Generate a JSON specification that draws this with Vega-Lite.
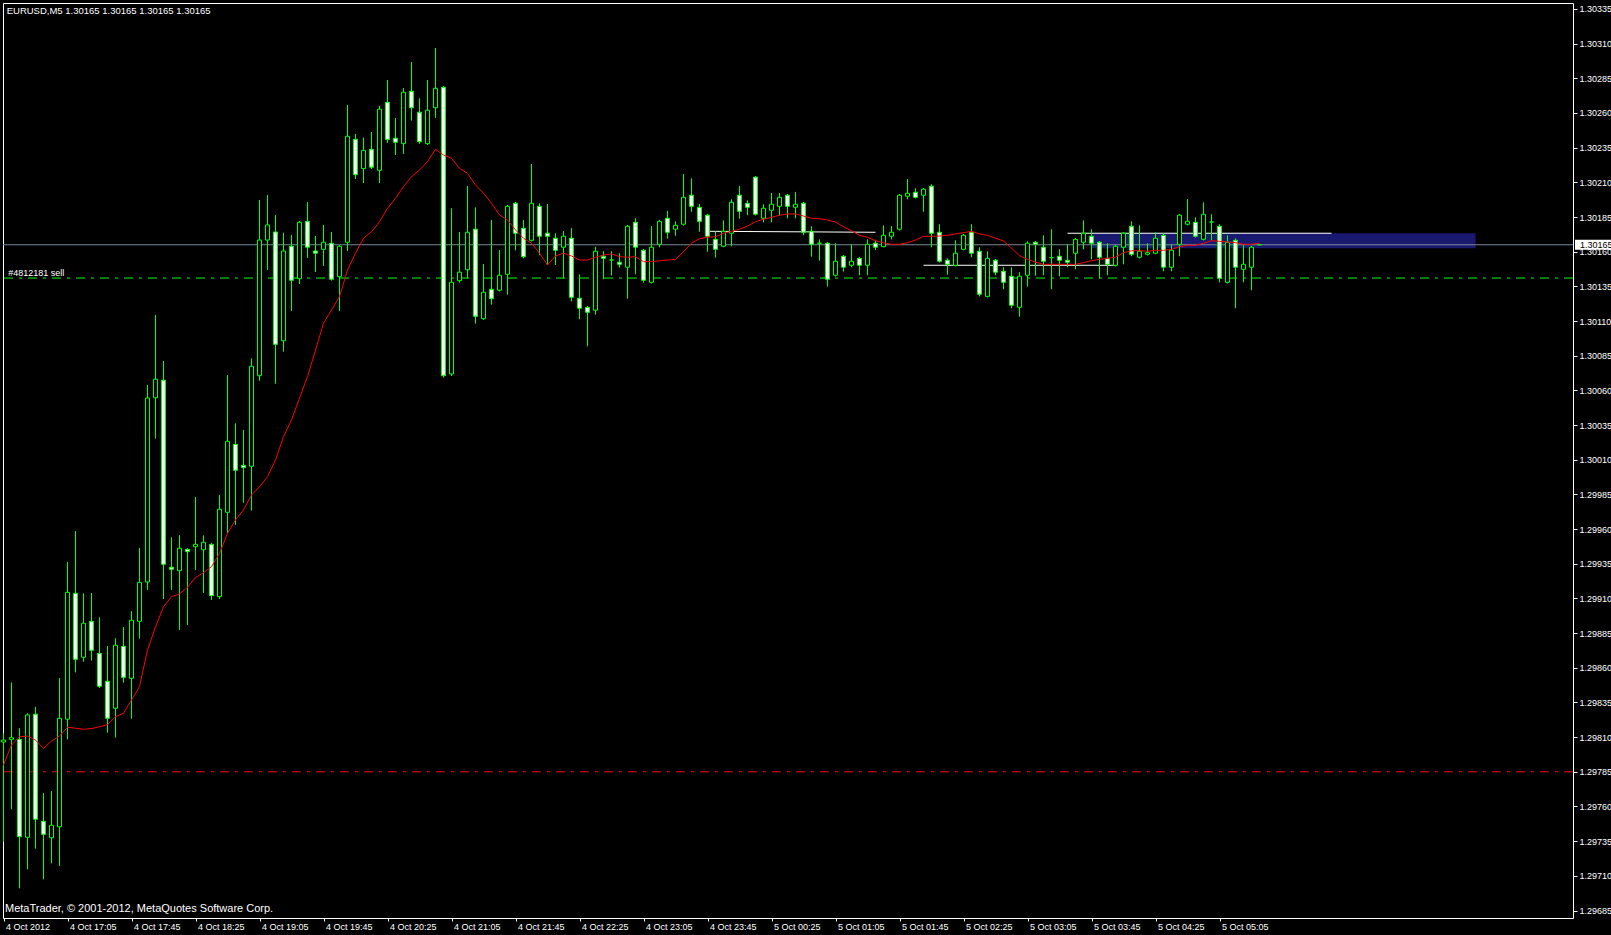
{
"$schema": "https://vega.github.io/schema/vega-lite/v6.json",
"width": 1570, "height": 915,
"autosize": {"type": "none"},
"padding": {"left": 3, "top": 3, "right": 38, "bottom": 17},
"background": "#000000",
"config": {
  "view": {"fill": "#000000", "stroke": "#ffffff", "strokeWidth": 1},
  "font": "Liberation Sans",
  "axis": {"grid": false, "domain": false, "tickColor": "#ffffff", "labelColor": "#ffffff", "labelFont": "Liberation Sans", "labelFontSize": 9, "labelOverlap": false}
},
"data": {"values": [
{"t":"2012-10-04T16:25Z","o":1.298065,"h":1.298128,"l":1.297346,"c":1.298079,"ma":1.297899},
{"t":"2012-10-04T16:30Z","o":1.298084,"h":1.298495,"l":1.297580,"c":1.298096,"ma":1.298043},
{"t":"2012-10-04T16:35Z","o":1.298084,"h":1.298164,"l":1.297010,"c":1.297382,"ma":1.298103},
{"t":"2012-10-04T16:40Z","o":1.297378,"h":1.298272,"l":1.297147,"c":1.298260,"ma":1.298108},
{"t":"2012-10-04T16:45Z","o":1.298265,"h":1.298319,"l":1.297296,"c":1.297508,"ma":1.298079},
{"t":"2012-10-04T16:50Z","o":1.297493,"h":1.297697,"l":1.297075,"c":1.297399,"ma":1.298019},
{"t":"2012-10-04T16:55Z","o":1.297375,"h":1.297712,"l":1.297190,"c":1.297464,"ma":1.298072},
{"t":"2012-10-04T17:00Z","o":1.297454,"h":1.298526,"l":1.297171,"c":1.298236,"ma":1.298108},
{"t":"2012-10-04T17:05Z","o":1.298229,"h":1.299363,"l":1.298084,"c":1.299144,"ma":1.298171},
{"t":"2012-10-04T17:10Z","o":1.299137,"h":1.299586,"l":1.298567,"c":1.298661,"ma":1.298164},
{"t":"2012-10-04T17:15Z","o":1.298676,"h":1.299137,"l":1.298644,"c":1.298921,"ma":1.298157},
{"t":"2012-10-04T17:20Z","o":1.298935,"h":1.299139,"l":1.298651,"c":1.298726,"ma":1.298161},
{"t":"2012-10-04T17:25Z","o":1.298704,"h":1.298964,"l":1.298454,"c":1.298467,"ma":1.298175},
{"t":"2012-10-04T17:30Z","o":1.298503,"h":1.298757,"l":1.298132,"c":1.298236,"ma":1.298190},
{"t":"2012-10-04T17:35Z","o":1.298308,"h":1.298813,"l":1.298096,"c":1.298762,"ma":1.298247},
{"t":"2012-10-04T17:40Z","o":1.298755,"h":1.298894,"l":1.298493,"c":1.298531,"ma":1.298272},
{"t":"2012-10-04T17:45Z","o":1.298524,"h":1.299009,"l":1.298233,"c":1.298942,"ma":1.298368},
{"t":"2012-10-04T17:50Z","o":1.298935,"h":1.299464,"l":1.298810,"c":1.299216,"ma":1.298464},
{"t":"2012-10-04T17:55Z","o":1.299218,"h":1.300639,"l":1.299161,"c":1.300545,"ma":1.298728},
{"t":"2012-10-04T18:00Z","o":1.300547,"h":1.301144,"l":1.300252,"c":1.300680,"ma":1.298894},
{"t":"2012-10-04T18:05Z","o":1.300673,"h":1.300812,"l":1.299096,"c":1.299346,"ma":1.299040},
{"t":"2012-10-04T18:10Z","o":1.299325,"h":1.299541,"l":1.299161,"c":1.299310,"ma":1.299113},
{"t":"2012-10-04T18:15Z","o":1.299300,"h":1.299557,"l":1.298872,"c":1.299462,"ma":1.299132},
{"t":"2012-10-04T18:20Z","o":1.299454,"h":1.299462,"l":1.298908,"c":1.299437,"ma":1.299180},
{"t":"2012-10-04T18:25Z","o":1.299473,"h":1.299831,"l":1.299305,"c":1.299490,"ma":1.299250},
{"t":"2012-10-04T18:30Z","o":1.299451,"h":1.299555,"l":1.299139,"c":1.299505,"ma":1.299286},
{"t":"2012-10-04T18:35Z","o":1.299490,"h":1.299500,"l":1.299089,"c":1.299120,"ma":1.299329},
{"t":"2012-10-04T18:40Z","o":1.299113,"h":1.299846,"l":1.299096,"c":1.299743,"ma":1.299425},
{"t":"2012-10-04T18:45Z","o":1.299721,"h":1.300711,"l":1.299570,"c":1.300233,"ma":1.299570},
{"t":"2012-10-04T18:50Z","o":1.300211,"h":1.300363,"l":1.299630,"c":1.300024,"ma":1.299666},
{"t":"2012-10-04T18:55Z","o":1.300060,"h":1.300315,"l":1.299790,"c":1.300043,"ma":1.299738},
{"t":"2012-10-04T19:00Z","o":1.300053,"h":1.300831,"l":1.299733,"c":1.300774,"ma":1.299846},
{"t":"2012-10-04T19:05Z","o":1.300706,"h":1.301973,"l":1.300670,"c":1.301684,"ma":1.299906},
{"t":"2012-10-04T19:10Z","o":1.301684,"h":1.302009,"l":1.301468,"c":1.301793,"ma":1.299978},
{"t":"2012-10-04T19:15Z","o":1.301742,"h":1.301865,"l":1.300648,"c":1.300932,"ma":1.300098},
{"t":"2012-10-04T19:20Z","o":1.300958,"h":1.301737,"l":1.300879,"c":1.301605,"ma":1.300266},
{"t":"2012-10-04T19:25Z","o":1.301639,"h":1.301721,"l":1.301173,"c":1.301394,"ma":1.300387},
{"t":"2012-10-04T19:30Z","o":1.301405,"h":1.301821,"l":1.301367,"c":1.301812,"ma":1.300543},
{"t":"2012-10-04T19:35Z","o":1.301819,"h":1.301958,"l":1.301555,"c":1.301632,"ma":1.300699},
{"t":"2012-10-04T19:40Z","o":1.301605,"h":1.301713,"l":1.301454,"c":1.301589,"ma":1.300891},
{"t":"2012-10-04T19:45Z","o":1.301617,"h":1.301793,"l":1.301497,"c":1.301668,"ma":1.301084},
{"t":"2012-10-04T19:50Z","o":1.301661,"h":1.301742,"l":1.301391,"c":1.301401,"ma":1.301180},
{"t":"2012-10-04T19:55Z","o":1.301420,"h":1.301648,"l":1.301173,"c":1.301639,"ma":1.301276},
{"t":"2012-10-04T20:00Z","o":1.301668,"h":1.302658,"l":1.301605,"c":1.302432,"ma":1.301468},
{"t":"2012-10-04T20:05Z","o":1.302410,"h":1.302449,"l":1.302124,"c":1.302155,"ma":1.301589},
{"t":"2012-10-04T20:10Z","o":1.302199,"h":1.302422,"l":1.302095,"c":1.302331,"ma":1.301697},
{"t":"2012-10-04T20:15Z","o":1.302338,"h":1.302463,"l":1.302196,"c":1.302209,"ma":1.301744},
{"t":"2012-10-04T20:20Z","o":1.302187,"h":1.302651,"l":1.302095,"c":1.302627,"ma":1.301816},
{"t":"2012-10-04T20:25Z","o":1.302677,"h":1.302838,"l":1.302384,"c":1.302408,"ma":1.301913},
{"t":"2012-10-04T20:30Z","o":1.302418,"h":1.302564,"l":1.302297,"c":1.302389,"ma":1.301985},
{"t":"2012-10-04T20:35Z","o":1.302379,"h":1.302780,"l":1.302305,"c":1.302749,"ma":1.302069},
{"t":"2012-10-04T20:40Z","o":1.302757,"h":1.302968,"l":1.302545,"c":1.302638,"ma":1.302141},
{"t":"2012-10-04T20:45Z","o":1.302605,"h":1.302706,"l":1.302377,"c":1.302393,"ma":1.302189},
{"t":"2012-10-04T20:50Z","o":1.302379,"h":1.302838,"l":1.302369,"c":1.302620,"ma":1.302249},
{"t":"2012-10-04T20:55Z","o":1.302638,"h":1.303069,"l":1.302564,"c":1.302778,"ma":1.302338},
{"t":"2012-10-04T21:00Z","o":1.302785,"h":1.302795,"l":1.300692,"c":1.300706,"ma":1.302297},
{"t":"2012-10-04T21:05Z","o":1.300718,"h":1.301913,"l":1.300704,"c":1.301379,"ma":1.302274},
{"t":"2012-10-04T21:10Z","o":1.301391,"h":1.301742,"l":1.301377,"c":1.301452,"ma":1.302201},
{"t":"2012-10-04T21:15Z","o":1.301470,"h":1.302074,"l":1.301408,"c":1.301740,"ma":1.302165},
{"t":"2012-10-04T21:20Z","o":1.301762,"h":1.301920,"l":1.301081,"c":1.301134,"ma":1.302081},
{"t":"2012-10-04T21:25Z","o":1.301117,"h":1.301511,"l":1.301108,"c":1.301307,"ma":1.302021},
{"t":"2012-10-04T21:30Z","o":1.301329,"h":1.301829,"l":1.301218,"c":1.301261,"ma":1.301949},
{"t":"2012-10-04T21:35Z","o":1.301322,"h":1.301612,"l":1.301313,"c":1.301430,"ma":1.301865},
{"t":"2012-10-04T21:40Z","o":1.301437,"h":1.301937,"l":1.301290,"c":1.301927,"ma":1.301829},
{"t":"2012-10-04T21:45Z","o":1.301949,"h":1.301958,"l":1.301610,"c":1.301733,"ma":1.301757},
{"t":"2012-10-04T21:50Z","o":1.301769,"h":1.301829,"l":1.301552,"c":1.301564,"ma":1.301697},
{"t":"2012-10-04T21:55Z","o":1.301682,"h":1.302232,"l":1.301674,"c":1.301949,"ma":1.301661},
{"t":"2012-10-04T22:00Z","o":1.301927,"h":1.301949,"l":1.301574,"c":1.301711,"ma":1.301589},
{"t":"2012-10-04T22:05Z","o":1.301733,"h":1.301944,"l":1.301504,"c":1.301711,"ma":1.301504},
{"t":"2012-10-04T22:10Z","o":1.301697,"h":1.301733,"l":1.301504,"c":1.301610,"ma":1.301569},
{"t":"2012-10-04T22:15Z","o":1.301632,"h":1.301749,"l":1.301408,"c":1.301711,"ma":1.301589},
{"t":"2012-10-04T22:20Z","o":1.301697,"h":1.301769,"l":1.301242,"c":1.301271,"ma":1.301569},
{"t":"2012-10-04T22:25Z","o":1.301264,"h":1.301437,"l":1.301113,"c":1.301192,"ma":1.301540},
{"t":"2012-10-04T22:30Z","o":1.301199,"h":1.301209,"l":1.300918,"c":1.301163,"ma":1.301540},
{"t":"2012-10-04T22:35Z","o":1.301178,"h":1.301636,"l":1.301146,"c":1.301603,"ma":1.301560},
{"t":"2012-10-04T22:40Z","o":1.301567,"h":1.301603,"l":1.301401,"c":1.301552,"ma":1.301576},
{"t":"2012-10-04T22:45Z","o":1.301540,"h":1.301603,"l":1.301428,"c":1.301540,"ma":1.301584},
{"t":"2012-10-04T22:50Z","o":1.301524,"h":1.301589,"l":1.301485,"c":1.301509,"ma":1.301564},
{"t":"2012-10-04T22:55Z","o":1.301488,"h":1.301793,"l":1.301261,"c":1.301783,"ma":1.301560},
{"t":"2012-10-04T23:00Z","o":1.301812,"h":1.301841,"l":1.301437,"c":1.301632,"ma":1.301564},
{"t":"2012-10-04T23:05Z","o":1.301610,"h":1.301620,"l":1.301377,"c":1.301394,"ma":1.301528},
{"t":"2012-10-04T23:10Z","o":1.301379,"h":1.301785,"l":1.301371,"c":1.301632,"ma":1.301528},
{"t":"2012-10-04T23:15Z","o":1.301653,"h":1.301829,"l":1.301632,"c":1.301819,"ma":1.301535},
{"t":"2012-10-04T23:20Z","o":1.301841,"h":1.301894,"l":1.301694,"c":1.301740,"ma":1.301540},
{"t":"2012-10-04T23:25Z","o":1.301762,"h":1.301819,"l":1.301715,"c":1.301790,"ma":1.301545},
{"t":"2012-10-04T23:30Z","o":1.301798,"h":1.302160,"l":1.301788,"c":1.301992,"ma":1.301600},
{"t":"2012-10-04T23:35Z","o":1.302007,"h":1.302129,"l":1.301888,"c":1.301927,"ma":1.301661},
{"t":"2012-10-04T23:40Z","o":1.301920,"h":1.301944,"l":1.301744,"c":1.301819,"ma":1.301694},
{"t":"2012-10-04T23:45Z","o":1.301863,"h":1.301872,"l":1.301600,"c":1.301711,"ma":1.301704},
{"t":"2012-10-04T23:50Z","o":1.301689,"h":1.301747,"l":1.301557,"c":1.301617,"ma":1.301708},
{"t":"2012-10-04T23:55Z","o":1.301639,"h":1.301826,"l":1.301632,"c":1.301747,"ma":1.301733},
{"t":"2012-10-05T00:00Z","o":1.301733,"h":1.301978,"l":1.301639,"c":1.301956,"ma":1.301747},
{"t":"2012-10-05T00:05Z","o":1.302007,"h":1.302074,"l":1.301838,"c":1.301891,"ma":1.301762},
{"t":"2012-10-05T00:10Z","o":1.301949,"h":1.301971,"l":1.301863,"c":1.301920,"ma":1.301785},
{"t":"2012-10-05T00:15Z","o":1.302137,"h":1.302146,"l":1.301861,"c":1.301870,"ma":1.301816},
{"t":"2012-10-05T00:20Z","o":1.301841,"h":1.301942,"l":1.301812,"c":1.301913,"ma":1.301834},
{"t":"2012-10-05T00:25Z","o":1.301899,"h":1.302023,"l":1.301812,"c":1.301942,"ma":1.301848},
{"t":"2012-10-05T00:30Z","o":1.301927,"h":1.302023,"l":1.301860,"c":1.301992,"ma":1.301863},
{"t":"2012-10-05T00:35Z","o":1.302007,"h":1.302016,"l":1.301841,"c":1.301927,"ma":1.301872},
{"t":"2012-10-05T00:40Z","o":1.301920,"h":1.302031,"l":1.301841,"c":1.301942,"ma":1.301872},
{"t":"2012-10-05T00:45Z","o":1.301949,"h":1.301958,"l":1.301718,"c":1.301740,"ma":1.301857},
{"t":"2012-10-05T00:50Z","o":1.301747,"h":1.301783,"l":1.301564,"c":1.301653,"ma":1.301841},
{"t":"2012-10-05T00:55Z","o":1.301661,"h":1.301689,"l":1.301535,"c":1.301661,"ma":1.301838},
{"t":"2012-10-05T01:00Z","o":1.301661,"h":1.301670,"l":1.301348,"c":1.301401,"ma":1.301829},
{"t":"2012-10-05T01:05Z","o":1.301430,"h":1.301661,"l":1.301421,"c":1.301531,"ma":1.301814},
{"t":"2012-10-05T01:10Z","o":1.301567,"h":1.301576,"l":1.301456,"c":1.301488,"ma":1.301780},
{"t":"2012-10-05T01:15Z","o":1.301502,"h":1.301653,"l":1.301488,"c":1.301531,"ma":1.301751},
{"t":"2012-10-05T01:20Z","o":1.301552,"h":1.301562,"l":1.301430,"c":1.301502,"ma":1.301718},
{"t":"2012-10-05T01:25Z","o":1.301502,"h":1.301689,"l":1.301430,"c":1.301653,"ma":1.301704},
{"t":"2012-10-05T01:30Z","o":1.301661,"h":1.301682,"l":1.301612,"c":1.301632,"ma":1.301679},
{"t":"2012-10-05T01:35Z","o":1.301636,"h":1.301790,"l":1.301632,"c":1.301718,"ma":1.301665},
{"t":"2012-10-05T01:40Z","o":1.301711,"h":1.301785,"l":1.301689,"c":1.301740,"ma":1.301653},
{"t":"2012-10-05T01:45Z","o":1.301762,"h":1.302016,"l":1.301753,"c":1.302007,"ma":1.301653},
{"t":"2012-10-05T01:50Z","o":1.302000,"h":1.302124,"l":1.301978,"c":1.302021,"ma":1.301665},
{"t":"2012-10-05T01:55Z","o":1.302028,"h":1.302057,"l":1.301984,"c":1.301992,"ma":1.301684},
{"t":"2012-10-05T02:00Z","o":1.302007,"h":1.302059,"l":1.301888,"c":1.302050,"ma":1.301711},
{"t":"2012-10-05T02:05Z","o":1.302072,"h":1.302086,"l":1.301632,"c":1.301733,"ma":1.301711},
{"t":"2012-10-05T02:10Z","o":1.301740,"h":1.301798,"l":1.301522,"c":1.301531,"ma":1.301713},
{"t":"2012-10-05T02:15Z","o":1.301538,"h":1.301552,"l":1.301434,"c":1.301509,"ma":1.301718},
{"t":"2012-10-05T02:20Z","o":1.301502,"h":1.301682,"l":1.301493,"c":1.301589,"ma":1.301728},
{"t":"2012-10-05T02:25Z","o":1.301617,"h":1.301728,"l":1.301610,"c":1.301718,"ma":1.301737},
{"t":"2012-10-05T02:30Z","o":1.301740,"h":1.301798,"l":1.301560,"c":1.301589,"ma":1.301747},
{"t":"2012-10-05T02:35Z","o":1.301603,"h":1.301632,"l":1.301278,"c":1.301293,"ma":1.301728},
{"t":"2012-10-05T02:40Z","o":1.301278,"h":1.301603,"l":1.301270,"c":1.301552,"ma":1.301718},
{"t":"2012-10-05T02:45Z","o":1.301538,"h":1.301547,"l":1.301430,"c":1.301452,"ma":1.301697},
{"t":"2012-10-05T02:50Z","o":1.301459,"h":1.301488,"l":1.301329,"c":1.301379,"ma":1.301677},
{"t":"2012-10-05T02:55Z","o":1.301423,"h":1.301488,"l":1.301192,"c":1.301214,"ma":1.301625},
{"t":"2012-10-05T03:00Z","o":1.301199,"h":1.301452,"l":1.301131,"c":1.301423,"ma":1.301571},
{"t":"2012-10-05T03:05Z","o":1.301430,"h":1.301675,"l":1.301348,"c":1.301661,"ma":1.301545},
{"t":"2012-10-05T03:10Z","o":1.301668,"h":1.301677,"l":1.301427,"c":1.301653,"ma":1.301524},
{"t":"2012-10-05T03:15Z","o":1.301632,"h":1.301718,"l":1.301430,"c":1.301531,"ma":1.301509},
{"t":"2012-10-05T03:20Z","o":1.301557,"h":1.301762,"l":1.301329,"c":1.301557,"ma":1.301509},
{"t":"2012-10-05T03:25Z","o":1.301567,"h":1.301617,"l":1.301423,"c":1.301538,"ma":1.301509},
{"t":"2012-10-05T03:30Z","o":1.301538,"h":1.301653,"l":1.301488,"c":1.301524,"ma":1.301509},
{"t":"2012-10-05T03:35Z","o":1.301589,"h":1.301699,"l":1.301473,"c":1.301689,"ma":1.301509},
{"t":"2012-10-05T03:40Z","o":1.301668,"h":1.301826,"l":1.301617,"c":1.301733,"ma":1.301521},
{"t":"2012-10-05T03:45Z","o":1.301711,"h":1.301762,"l":1.301545,"c":1.301661,"ma":1.301535},
{"t":"2012-10-05T03:50Z","o":1.301668,"h":1.301677,"l":1.301408,"c":1.301560,"ma":1.301545},
{"t":"2012-10-05T03:55Z","o":1.301552,"h":1.301661,"l":1.301430,"c":1.301509,"ma":1.301552},
{"t":"2012-10-05T04:00Z","o":1.301502,"h":1.301648,"l":1.301493,"c":1.301639,"ma":1.301560},
{"t":"2012-10-05T04:05Z","o":1.301632,"h":1.301742,"l":1.301509,"c":1.301733,"ma":1.301593},
{"t":"2012-10-05T04:10Z","o":1.301783,"h":1.301819,"l":1.301567,"c":1.301581,"ma":1.301607},
{"t":"2012-10-05T04:15Z","o":1.301560,"h":1.301790,"l":1.301551,"c":1.301603,"ma":1.301607},
{"t":"2012-10-05T04:20Z","o":1.301581,"h":1.301661,"l":1.301573,"c":1.301593,"ma":1.301603},
{"t":"2012-10-05T04:25Z","o":1.301589,"h":1.301740,"l":1.301581,"c":1.301697,"ma":1.301610},
{"t":"2012-10-05T04:30Z","o":1.301718,"h":1.301733,"l":1.301459,"c":1.301488,"ma":1.301610},
{"t":"2012-10-05T04:35Z","o":1.301488,"h":1.301653,"l":1.301459,"c":1.301610,"ma":1.301617},
{"t":"2012-10-05T04:40Z","o":1.301653,"h":1.301872,"l":1.301567,"c":1.301863,"ma":1.301636},
{"t":"2012-10-05T04:45Z","o":1.301798,"h":1.301980,"l":1.301789,"c":1.301819,"ma":1.301646},
{"t":"2012-10-05T04:50Z","o":1.301812,"h":1.301848,"l":1.301702,"c":1.301711,"ma":1.301646},
{"t":"2012-10-05T04:55Z","o":1.301689,"h":1.301956,"l":1.301681,"c":1.301870,"ma":1.301661},
{"t":"2012-10-05T05:00Z","o":1.301814,"h":1.301870,"l":1.301682,"c":1.301814,"ma":1.301679},
{"t":"2012-10-05T05:05Z","o":1.301783,"h":1.301798,"l":1.301379,"c":1.301408,"ma":1.301675},
{"t":"2012-10-05T05:10Z","o":1.301379,"h":1.301718,"l":1.301371,"c":1.301668,"ma":1.301670},
{"t":"2012-10-05T05:15Z","o":1.301682,"h":1.301697,"l":1.301192,"c":1.301488,"ma":1.301665},
{"t":"2012-10-05T05:20Z","o":1.301473,"h":1.301653,"l":1.301379,"c":1.301509,"ma":1.301653},
{"t":"2012-10-05T05:25Z","o":1.301488,"h":1.301641,"l":1.301322,"c":1.301632,"ma":1.301653},
{"t":"2012-10-05T05:30Z","o":1.30165,"h":1.30165,"l":1.30165,"c":1.30165,"ma":1.301661}
]},
"layer": [
{
  "data": {"values": [{"t1":"2012-10-05T03:45Z","t2":"2012-10-05T07:45Z","p1":1.301625,"p2":1.301733}]},
  "mark": {"type": "rect", "color": "#191970"},
  "encoding": {
    "x": {"field": "t1", "type": "temporal",
      "scale": {"type": "utc", "padding": 0, "domain": [{"year":2012,"month":10,"date":4,"hours":16,"minutes":24,"seconds":41,"milliseconds":250,"utc":true},{"year":2012,"month":10,"date":5,"hours":8,"minutes":45,"seconds":56,"milliseconds":250,"utc":true}]},
      "axis": {"title": null, "orient": "bottom", "tickSize": 3, "tickCount": 100, "labelPadding": 1, "labelAlign": "left", "labelBaseline": "top", "labelOffset": 2, "labelOverlap": false, "labelFlush": false,
        "labelExpr": "utcFormat(datum.value, '%H:%M') == '16:25' ? '4 Oct 2012' : utcFormat(datum.value, '%-d %b %H:%M')",
        "values": [
          {"year":2012,"month":10,"date":4,"hours":16,"minutes":25,"utc":true},
          {"year":2012,"month":10,"date":4,"hours":17,"minutes":5,"utc":true},
          {"year":2012,"month":10,"date":4,"hours":17,"minutes":45,"utc":true},
          {"year":2012,"month":10,"date":4,"hours":18,"minutes":25,"utc":true},
          {"year":2012,"month":10,"date":4,"hours":19,"minutes":5,"utc":true},
          {"year":2012,"month":10,"date":4,"hours":19,"minutes":45,"utc":true},
          {"year":2012,"month":10,"date":4,"hours":20,"minutes":25,"utc":true},
          {"year":2012,"month":10,"date":4,"hours":21,"minutes":5,"utc":true},
          {"year":2012,"month":10,"date":4,"hours":21,"minutes":45,"utc":true},
          {"year":2012,"month":10,"date":4,"hours":22,"minutes":25,"utc":true},
          {"year":2012,"month":10,"date":4,"hours":23,"minutes":5,"utc":true},
          {"year":2012,"month":10,"date":4,"hours":23,"minutes":45,"utc":true},
          {"year":2012,"month":10,"date":5,"hours":0,"minutes":25,"utc":true},
          {"year":2012,"month":10,"date":5,"hours":1,"minutes":5,"utc":true},
          {"year":2012,"month":10,"date":5,"hours":1,"minutes":45,"utc":true},
          {"year":2012,"month":10,"date":5,"hours":2,"minutes":25,"utc":true},
          {"year":2012,"month":10,"date":5,"hours":3,"minutes":5,"utc":true},
          {"year":2012,"month":10,"date":5,"hours":3,"minutes":45,"utc":true},
          {"year":2012,"month":10,"date":5,"hours":4,"minutes":25,"utc":true},
          {"year":2012,"month":10,"date":5,"hours":5,"minutes":5,"utc":true}
        ]}},
    "x2": {"field": "t2"},
    "y": {"field": "p1", "type": "quantitative",
      "scale": {"domain": [1.296796, 1.303393], "nice": false, "zero": false, "padding": 0},
      "axis": {"title": null, "orient": "right", "format": ".5f", "tickSize": 4, "tickCount": 100, "labelPadding": 2, "labelBaseline": "middle", "labelOverlap": false, "labelFlush": false,
        "values": [1.29685,1.2971,1.29735,1.2976,1.29785,1.2981,1.29835,1.2986,1.29885,1.2991,1.29935,1.2996,1.29985,1.3001,1.30035,1.3006,1.30085,1.3011,1.30135,1.3016,1.30185,1.3021,1.30235,1.3026,1.30285,1.3031,1.30335]}},
    "y2": {"field": "p2"}
  }
},
{
  "data": {"values": [
    {"t1":"2012-10-04T23:45Z","t2":"2012-10-05T01:30Z","p1":1.301747,"p2":1.30174},
    {"t1":"2012-10-05T02:00Z","t2":"2012-10-05T04:00Z","p1":1.301502,"p2":1.301502},
    {"t1":"2012-10-05T03:30Z","t2":"2012-10-05T06:15Z","p1":1.301733,"p2":1.301733}
  ]},
  "mark": {"type": "rule", "color": "#ffffff", "strokeWidth": 1},
  "encoding": {
    "x": {"field": "t1", "type": "temporal"},
    "x2": {"field": "t2"},
    "y": {"field": "p1", "type": "quantitative"},
    "y2": {"field": "p2"}
  }
},
{
  "data": {"values": [{"p": 1.30165}]},
  "mark": {"type": "rule", "color": "#778899", "strokeWidth": 1},
  "encoding": {"y": {"field": "p", "type": "quantitative"}}
},
{
  "data": {"values": [{"p": 1.30141}]},
  "mark": {"type": "rule", "color": "#00ff00", "strokeWidth": 1, "strokeDash": [9, 6, 3, 6]},
  "encoding": {"y": {"field": "p", "type": "quantitative"}}
},
{
  "data": {"values": [{"p": 1.29785}]},
  "mark": {"type": "rule", "color": "#ff0000", "strokeWidth": 1, "strokeDash": [9, 6, 3, 6]},
  "encoding": {"y": {"field": "p", "type": "quantitative"}}
},
{
  "mark": {"type": "rule", "color": "#00ff00", "strokeWidth": 1},
  "encoding": {
    "x": {"field": "t", "type": "temporal"},
    "y": {"field": "l", "type": "quantitative"},
    "y2": {"field": "h"}
  }
},
{
  "mark": {"type": "bar", "width": 4, "stroke": "#00ff00", "strokeWidth": 1},
  "encoding": {
    "x": {"field": "t", "type": "temporal"},
    "y": {"field": "o", "type": "quantitative"},
    "y2": {"field": "c"},
    "fill": {"condition": {"test": "datum.c < datum.o", "value": "#ffffff"}, "value": "#000000"}
  }
},
{
  "mark": {"type": "line", "color": "#ff0000", "strokeWidth": 1},
  "encoding": {
    "x": {"field": "t", "type": "temporal"},
    "y": {"field": "ma", "type": "quantitative"}
  }
},
{
  "data": {"values": [{"t": "2012-10-04T16:27:00Z", "p": 1.303338, "txt": "EURUSD,M5  1.30165 1.30165 1.30165 1.30165"}]},
  "mark": {"type": "text", "color": "#ffffff", "font": "Liberation Sans", "fontSize": 9.5, "align": "left", "baseline": "middle"},
  "encoding": {
    "x": {"field": "t", "type": "temporal"},
    "y": {"field": "p", "type": "quantitative"},
    "text": {"field": "txt"}
  }
},
{
  "data": {"values": [{"t": "2012-10-04T16:28:00Z", "p": 1.301449, "txt": "#4812181 sell"}]},
  "mark": {"type": "text", "color": "#ffffff", "font": "Liberation Sans", "fontSize": 9, "align": "left", "baseline": "middle"},
  "encoding": {
    "x": {"field": "t", "type": "temporal"},
    "y": {"field": "p", "type": "quantitative"},
    "text": {"field": "txt"}
  }
},
{
  "data": {"values": [{"t": "2012-10-04T16:25:56Z", "p": 1.296859, "txt": "MetaTrader, © 2001-2012, MetaQuotes Software Corp."}]},
  "mark": {"type": "text", "color": "#ffffff", "font": "Liberation Sans", "fontSize": 11, "align": "left", "baseline": "middle"},
  "encoding": {
    "x": {"field": "t", "type": "temporal"},
    "y": {"field": "p", "type": "quantitative"},
    "text": {"field": "txt"}
  }
},
{
  "data": {"values": [{"t1": "2012-10-05T08:47:11Z", "t2": "2012-10-05T09:12:00Z", "p1": 1.301686, "p2": 1.301614}]},
  "mark": {"type": "rect", "color": "#ffffff", "clip": false},
  "encoding": {
    "x": {"field": "t1", "type": "temporal"},
    "x2": {"field": "t2"},
    "y": {"field": "p1", "type": "quantitative"},
    "y2": {"field": "p2"}
  }
},
{
  "data": {"values": [{"t": "2012-10-05T08:50:15Z", "p": 1.30165, "txt": "1.30165"}]},
  "mark": {"type": "text", "color": "#000000", "font": "Liberation Sans", "fontSize": 9, "align": "left", "baseline": "middle", "clip": false},
  "encoding": {
    "x": {"field": "t", "type": "temporal"},
    "y": {"field": "p", "type": "quantitative"},
    "text": {"field": "txt"}
  }
}
]
}
